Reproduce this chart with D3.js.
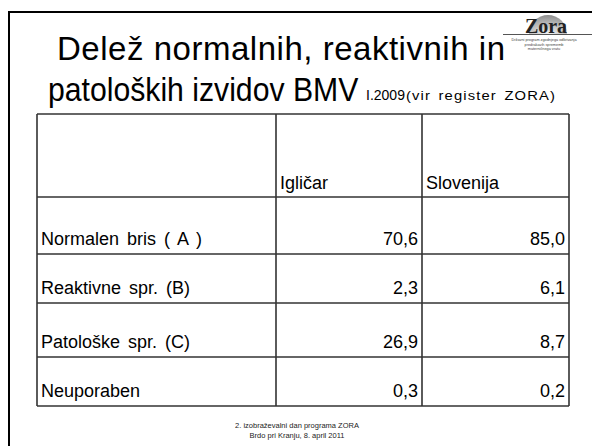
<!DOCTYPE html>
<html>
<head>
<meta charset="utf-8">
<script src="https://cdn.jsdelivr.net/npm/d3@7"></script>
<style>
  body { margin: 0; background: #fff; }
  svg { display: block; font-family: "Liberation Sans", Arial, sans-serif; }
</style>
</head>
<body>
<svg width="592" height="446"></svg>
<script>
// data
const rowLabels = ["Normalen bris ( A )", "Reaktivne spr. (B)", "Patološke spr. (C)", "Neuporaben"];
const columns = ["Igličar", "Slovenija"];
const iglicar = [70.6, 2.3, 26.9, 0.3];
const slovenija = [85.0, 6.1, 8.7, 0.2];

const svg = d3.select("svg"),
    width = +svg.attr("width"),
    height = +svg.attr("height");

const locale = d3.formatLocale({decimal: ",", thousands: ".", grouping: [3], currency: ["", "€"]});
const fmt = locale.format(".1f");

// slide frame (top + left edge)
svg.append("path")
    .attr("d", `M9,${height} V12 H${width}`)
    .attr("fill", "none")
    .attr("stroke", "#000")
    .attr("stroke-width", 2);

// logo (drawn first, title overlaps it a bit)
const grad = svg.append("defs").append("radialGradient")
    .attr("id", "lg").attr("cx", "50%").attr("cy", "100%").attr("r", "100%");
grad.append("stop").attr("offset", "0%").attr("stop-color", "#f2f2f2");
grad.append("stop").attr("offset", "100%").attr("stop-color", "#8c8c8c");
svg.append("path")
    .attr("d", d3.arc()({innerRadius: 0, outerRadius: 19, startAngle: -Math.PI / 2, endAngle: Math.PI / 2}))
    .attr("transform", "translate(548,34)")
    .attr("fill", "url(#lg)");
svg.append("text")
    .attr("x", 546).attr("y", 32.5)
    .attr("text-anchor", "middle")
    .style("font-family", "'Liberation Serif', 'DejaVu Serif', serif")
    .style("font-size", "20px")
    .style("font-weight", "bold")
    .attr("fill", "#222")
    .text("Zora");
svg.append("line")
    .attr("x1", 503).attr("x2", width).attr("y1", 34.5).attr("y2", 34.5)
    .attr("stroke", "#555").attr("stroke-width", 1);
const logoLines = ["Državni program zgodnjega odkrivanja", "predrakavih sprememb", "materničnega vratu"];
svg.append("g").selectAll("text")
    .data(logoLines)
    .join("text")
    .attr("x", 544)
    .attr("y", (d, i) => 41 + i * 4.5)
    .attr("text-anchor", "middle")
    .style("font-size", "3.8px")
    .attr("fill", "#444")
    .text(d => d);

// title
svg.append("text")
    .attr("x", 57).attr("y", 60)
    .attr("textLength", 448)
    .attr("lengthAdjust", "spacing")
    .style("font-size", "33px")
    .text("Delež normalnih, reaktivnih in");

// second title line is a bit condensed in the original slide
svg.append("text")
    .attr("transform", "translate(48,101) scale(0.915,1)")
    .style("font-size", "33px")
    .text("patoloških izvidov BMV");
svg.append("text")
    .attr("x", 366).attr("y", 100)
    .style("font-size", "14px")
    .text("I.2009");
svg.append("text")
    .attr("x", 406).attr("y", 100)
    .attr("textLength", 150)
    .attr("lengthAdjust", "spacingAndGlyphs")
    .style("font-size", "13px")
    .style("letter-spacing", "1px")
    .style("word-spacing", "2px")
    .text("(vir register ZORA)");

// table layout
const colX = d3.scaleOrdinal().domain(["label", ...columns, "end"]).range([37, 276, 422, 569]);
const rowY = d3.scaleOrdinal().domain(["head", ...rowLabels, "end"]).range([114, 197, 254, 303, 357, 406]);

const rows = rowLabels.map((r, i) => ({label: r, values: [iglicar[i], slovenija[i]]}));
const table = svg.append("g");

// grid lines
table.selectAll("line.h")
    .data(rowY.domain())
    .join("line")
    .attr("class", "h")
    .attr("x1", colX("label")).attr("x2", colX("end"))
    .attr("y1", d => rowY(d)).attr("y2", d => rowY(d))
    .attr("stroke", "#333").attr("stroke-width", 1.6);
table.selectAll("line.v")
    .data(colX.domain())
    .join("line")
    .attr("class", "v")
    .attr("x1", d => colX(d)).attr("x2", d => colX(d))
    .attr("y1", rowY("head")).attr("y2", rowY("end"))
    .attr("stroke", "#333").attr("stroke-width", 1.6);

// header
table.selectAll("text.head")
    .data(columns)
    .join("text")
    .attr("class", "head")
    .attr("x", d => colX(d) + 4)
    .attr("y", rowY(rowLabels[0]) - 8)
    .style("font-size", "18px")
    .text(d => d);

// body rows
const nextKey = d => rowY.domain()[rowY.domain().indexOf(d) + 1];
const rowG = table.selectAll("g.row")
    .data(rows)
    .join("g")
    .attr("class", "row");
rowG.append("text")
    .attr("x", colX("label") + 4)
    .attr("y", d => rowY(nextKey(d.label)) - 9)
    .style("font-size", "18px")
    .style("word-spacing", "3px")
    .text(d => d.label);
rowG.selectAll("text.val")
    .data(d => d.values.map((v, j) => ({v, col: columns[j], label: d.label})))
    .join("text")
    .attr("class", "val")
    .attr("x", d => colX(colX.domain()[colX.domain().indexOf(d.col) + 1]) - 4)
    .attr("y", d => rowY(nextKey(d.label)) - 9)
    .attr("text-anchor", "end")
    .style("font-size", "18px")
    .text(d => fmt(d.v));

// footer
const footer = ["2. izobraževalni dan programa ZORA", "Brdo pri Kranju, 8. april 2011"];
svg.append("g").selectAll("text")
    .data(footer)
    .join("text")
    .attr("x", 297)
    .attr("y", (d, i) => 428 + i * 10)
    .attr("text-anchor", "middle")
    .style("font-size", "7.5px")
    .attr("fill", "#222")
    .text(d => d);
</script>
</body>
</html>
